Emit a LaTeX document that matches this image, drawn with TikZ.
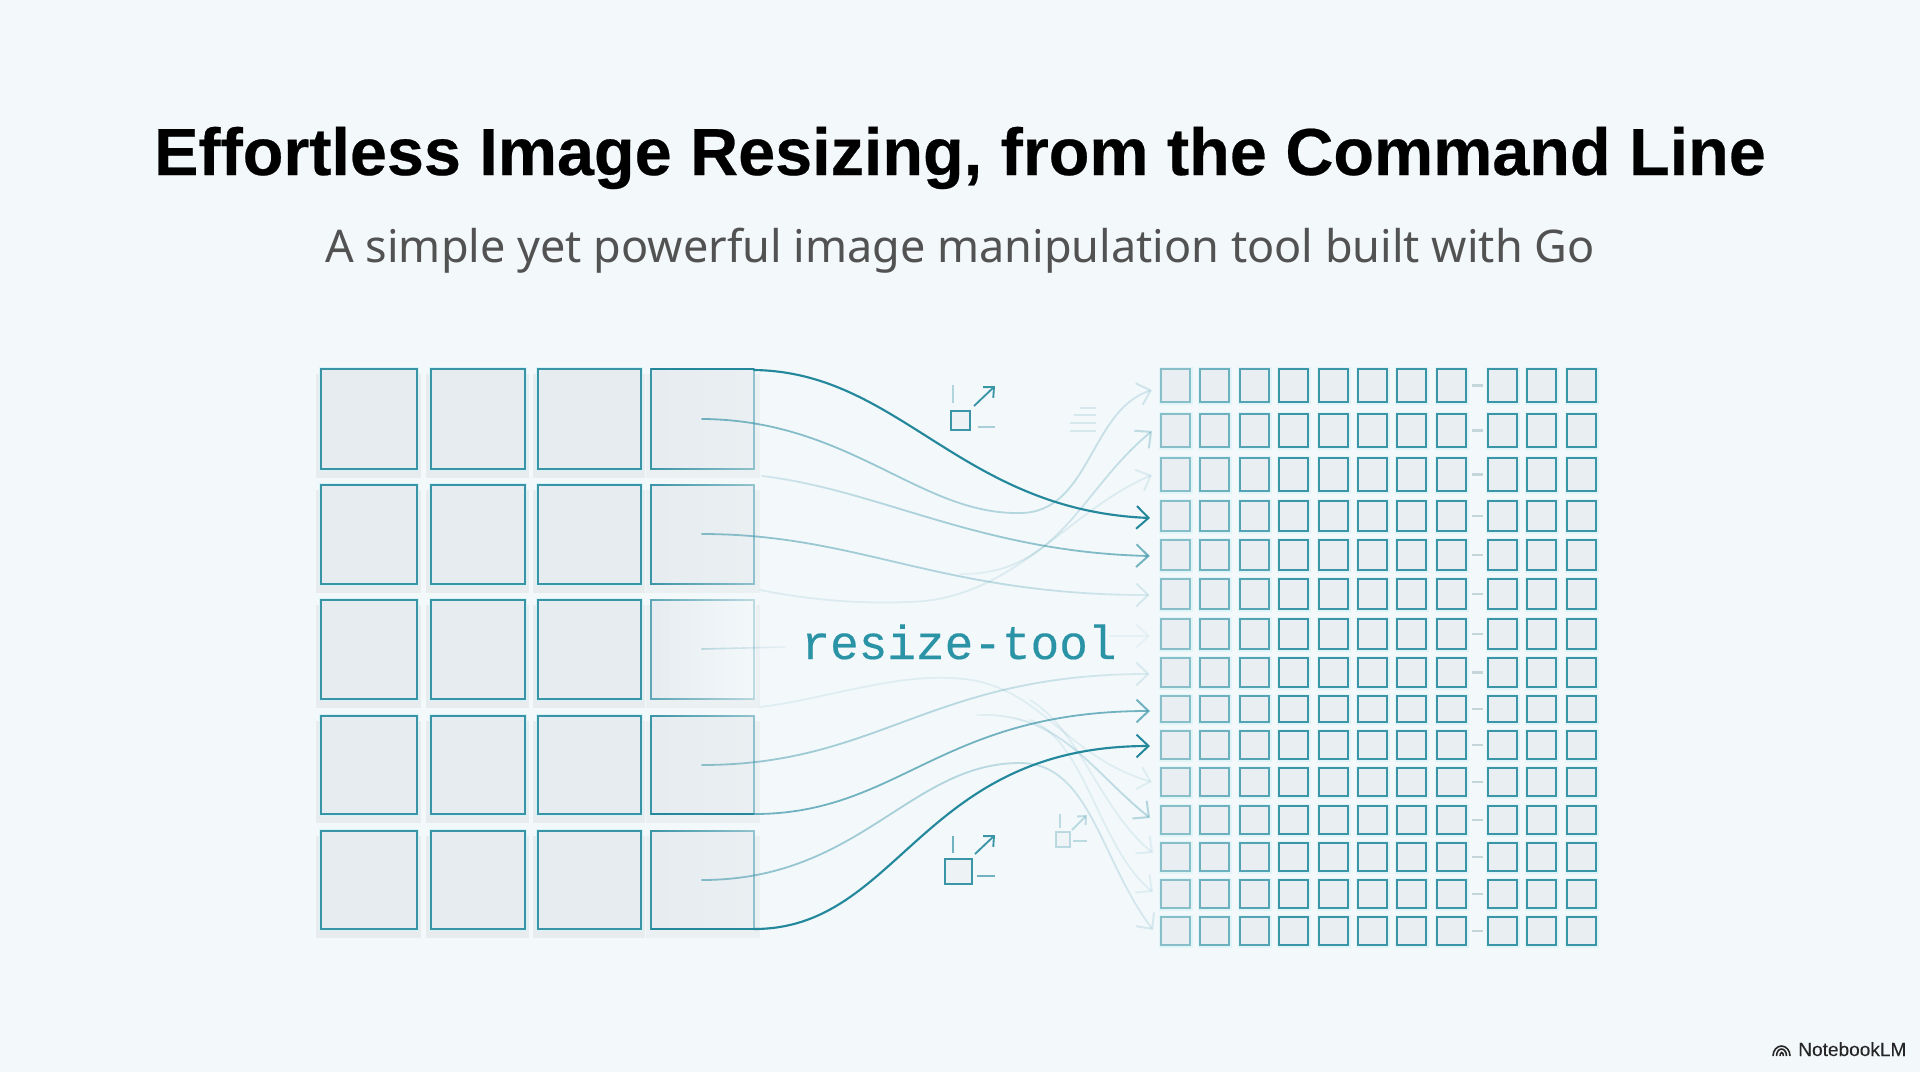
\documentclass[tikz,border=0pt]{standalone}
\usepackage{fontspec}
\usetikzlibrary{arrows.meta,fadings,calc}
\newfontfamily\titlefont{Liberation Sans}
\newfontfamily\subfont{Noto Sans}
\newfontfamily\monofont{Liberation Mono}
\definecolor{bgc}{HTML}{F3F8FB}
\definecolor{tealc}{HTML}{3A95A7}
\definecolor{teald}{HTML}{23889B}
\definecolor{textteal}{HTML}{2A93A6}
\definecolor{cellc}{HTML}{E7ECF0}
\definecolor{halo}{HTML}{D6F3F8}
\definecolor{shadowc}{HTML}{E8ECEF}
\definecolor{dashc}{HTML}{C5D6DB}
\tikzfading[name=fadeout, left color=transparent!0, right color=transparent!75]
\tikzfading[name=edgefade, left color=transparent!0, right color=transparent!50]
\tikzfading[name=edgefadestrong, left color=transparent!20, right color=transparent!72]
\tikzfading[name=fadein, left color=transparent!75, right color=transparent!0]
\tikzset{
  cellbase/.style={draw=tealc, fill=cellc, line width=1.5pt, inner sep=0pt, outer sep=0pt, rectangle},
  smallcell/.style={cellbase, line width=1.7pt},
  link/.style={tealc, line width=1.35pt, line cap=round, -{Straight Barb[length=9pt,width=17pt,line width=1.5pt]}},
  plainlink/.style={tealc, line width=1.2pt, line cap=round},
  iconline/.style={tealc, line width=1.4pt},
}
\begin{document}
\begin{tikzpicture}[x=0.75pt,y=-0.75pt]
\useasboundingbox (0,0) rectangle (1920,1072);
\fill[bgc] (0,0) rectangle (1920,1072);

\node[anchor=base,font={\titlefont\bfseries\addfontfeature{FakeBold=0.35}\fontsize{49.9}{50}\selectfont},text=black] (title) at (960,175) {Effortless Image Resizing, from the Command Line};
\node[anchor=base,font=\subfont\fontsize{33.76}{34}\selectfont,text=black!68] (subtitle) at (960,262) {A simple yet powerful image manipulation tool built with Go};

% left grid
\foreach \ya/\yb [count=\r] in {369/469,485/584,600/699,716/814,831/929}{
  \foreach \xa/\xb [count=\c] in {321/417,431/525,538/641}{
    \fill[shadowc] (\xa-5,\ya+5) rectangle (\xb+4,\yb+9);
    \fill[halo] (\xa-2,\ya-2) rectangle (\xb+2,\yb+2);
    \node[cellbase,draw=teald!90,minimum width={(\xb-\xa)*0.75pt},minimum height={(\yb-\ya)*0.75pt}] (L\r-\c) at ({(\xa+\xb)/2},{(\ya+\yb)/2}) {};
  }
  \fill[shadowc!70!bgc] (646,\ya+5) rectangle (760,\yb+9);
  \node[rectangle,inner sep=0pt,outer sep=0pt,left color=cellc,right color=cellc!75!bgc,minimum width={103*0.75pt},minimum height={(\yb-\ya)*0.75pt}] (L\r-4) at (702.5,{(\ya+\yb)/2}) {};
}
% fourth column outlines, fading to the right
\foreach \ya/\yb in {369/469,485/584,716/814,831/929}{
  \draw[tealc,line width=1.5pt,path fading=edgefade] (651,\ya) rectangle (754,\yb);
}
\fill[bgc,path fading=west] (651,600) rectangle (756,699);
\draw[tealc,line width=1.5pt,path fading=edgefadestrong] (651,600) rectangle (754,699);
\draw[teald,line width=1.5pt] (651,369) -- (754,369);
\draw[teald,line width=1.5pt] (651,814) -- (754,814);
\draw[teald,line width=1.5pt] (651,929) -- (754,929);

% right grid
\foreach \ya/\yb [count=\r] in {369/402,414/447,458/491,501/531,540/570,579/609,619/649,658/687,696/722,731/759,768/796,806/834,843/871,880/908,917/945}{
  \foreach \xa/\xb/\op [count=\c] in {1161/1190/.55,1200/1229/.7,1240/1269/.85,1279/1308/1,1319/1348/1,1358/1387/1,1397/1426/1,1437/1466/1,1488/1517/1,1527/1556/1,1567/1596/1}{
    \fill[halo,opacity=.6] (\xa-2.5,\ya-2.5) rectangle (\xb+2.5,\yb+2.5);
    \node[smallcell,fill=cellc!85!bgc,draw opacity=\op,minimum width={(\xb-\xa)*0.75pt},minimum height={(\yb-\ya)*0.75pt}] (R\r-\c) at ({(\xa+\xb)/2},{(\ya+\yb)/2}) {};
  }
  \draw[dashc,line width=1.6pt] (1472,{(\ya+\yb)/2}) -- (1483,{(\ya+\yb)/2});
}

% free ends of the connectors
\coordinate (a0) at (754,370);  \coordinate (a1) at (1150,518);
\coordinate (b0) at (702,419);  \coordinate (bm) at (1020,513); \coordinate (b1) at (1152,390);
\coordinate (c0) at (762,476);  \coordinate (c1) at (1150,556);
\coordinate (d0) at (702,534);  \coordinate (d1) at (1150,595);
\coordinate (e0) at (960,574);  \coordinate (e1) at (1152,431);
\coordinate (f0) at (760,590);  \coordinate (fm) at (925,601); \coordinate (f1) at (1152,475);
\coordinate (g0) at (702,649);  \coordinate (g1) at (785,647);
\coordinate (g2) at (1110,636); \coordinate (g3) at (1150,636);
\coordinate (h0) at (702,765);  \coordinate (h1) at (1150,674);
\coordinate (i0) at (754,814);  \coordinate (i1) at (1150,711);
\coordinate (j0) at (754,929);  \coordinate (j1) at (1150,746);
\coordinate (k0) at (702,880);  \coordinate (km) at (1020,763); \coordinate (k1) at (1153,930);
\coordinate (l0) at (760,707);  \coordinate (lm) at (950,678);  \coordinate (l1) at (1152,782);
\coordinate (m0) at (977,715);  \coordinate (m1) at (1150,818);
\coordinate (n0) at (1030,700); \coordinate (n1) at (1153,853);
\coordinate (o0) at (1030,720); \coordinate (o1) at (1153,892);

% faint ones first
\draw[link,draw opacity=.13] (f0) .. controls (800,598) and (860,606) .. (fm) .. controls (1020,590) and (1070,510) .. (f1);
\draw[link,draw opacity=.3,path fading=fadein] (e0) .. controls (1060,575) and (1080,490) .. (e1);
\draw[plainlink,draw opacity=.3,path fading=fadeout] (g0) -- (g1);
\draw[link,draw opacity=.07] (g2) -- (g3);
\draw[link,draw opacity=.11] (l0) .. controls (820,700) and (890,675) .. (lm) .. controls (1040,680) and (1060,755) .. (l1);
\draw[link,draw opacity=.11] (n0) .. controls (1080,730) and (1100,810) .. (n1);
\draw[link,draw opacity=.11] (o0) .. controls (1085,740) and (1100,850) .. (o1);
\draw[link,draw opacity=.35,path fading=fadein] (m0) .. controls (1060,712) and (1090,770) .. (m1);
% the fading ones
\draw[link,draw opacity=.7,path fading=fadeout] (b0) .. controls (850,420) and (920,515) .. (bm) .. controls (1090,513) and (1090,410) .. (b1);
\draw[link,draw opacity=.7,path fading=fadein] (c0) .. controls (880,490) and (980,552) .. (c1);
\draw[link,draw opacity=.6,path fading=fadeout] (d0) .. controls (860,534) and (940,595) .. (d1);
\draw[link,draw opacity=.55,path fading=fadeout] (h0) .. controls (880,765) and (930,674) .. (h1);
\draw[link,draw opacity=.7] (i0) .. controls (900,814) and (940,711) .. (i1);
\draw[link,draw opacity=.6,path fading=fadeout] (k0) .. controls (860,880) and (910,763) .. (km) .. controls (1090,763) and (1100,860) .. (k1);
% strongest ones
\draw[link,teald,line width=1.6pt] (a0) .. controls (900,372) and (960,510) .. (a1);
\draw[link,teald,line width=1.6pt] (j0) .. controls (900,929) and (920,746) .. (j1);

\node[anchor=base,font={\monofont\addfontfeature{FakeBold=0.3}\fontsize{35.8}{36}\selectfont},text=textteal] (tool) at (959,659) {resize-tool};

% icons
\draw[iconline,fill=cellc!50!bgc] (951,411) rectangle (970,430);
\draw[iconline,-{Straight Barb[length=6pt,width=11pt]}] (974,406) -- (995,386);
\draw[iconline,opacity=.35] (953,385) -- (953,403);
\draw[iconline,opacity=.4] (978,427) -- (995,427);

\draw[iconline,fill=cellc!50!bgc] (945,859) rectangle (972,884);
\draw[iconline,-{Straight Barb[length=6pt,width=11pt]}] (975,854) -- (995,835);
\draw[iconline,opacity=.7] (953,836) -- (953,853);
\draw[iconline,opacity=.7] (977,876) -- (995,876);

\draw[iconline,opacity=.3,fill=cellc] (1056,832) rectangle (1070,847);
\draw[iconline,opacity=.3,-{Straight Barb[length=5pt,width=9pt]}] (1072,830) -- (1087,815);
\draw[iconline,opacity=.3] (1060,814) -- (1060,828);
\draw[iconline,opacity=.3] (1073,841) -- (1087,841);

\foreach \yy/\xs in {408/1080,415/1074,423/1070,431/1070}{
  \draw[iconline,opacity=.16] (\xs,\yy) -- (1096,\yy);
}

% brand mark
\node[anchor=base west,inner sep=0pt,font={\titlefont\addfontfeature{FakeBold=0.15}\fontsize{14.3}{14}\selectfont},text=black!85] (brand) at (1798,1056) {NotebookLM};
\draw[black!85,line width=1.2pt] (1773,1056) arc[start angle=180,end angle=360,x radius=8.5,y radius=10];
\draw[black!85,line width=1.2pt] (1776.5,1056) arc[start angle=180,end angle=360,x radius=5,y radius=7];
\draw[black!85,line width=1.2pt] (1780,1056) arc[start angle=180,end angle=360,x radius=1.7,y radius=3.5];
\end{tikzpicture}
\end{document}
